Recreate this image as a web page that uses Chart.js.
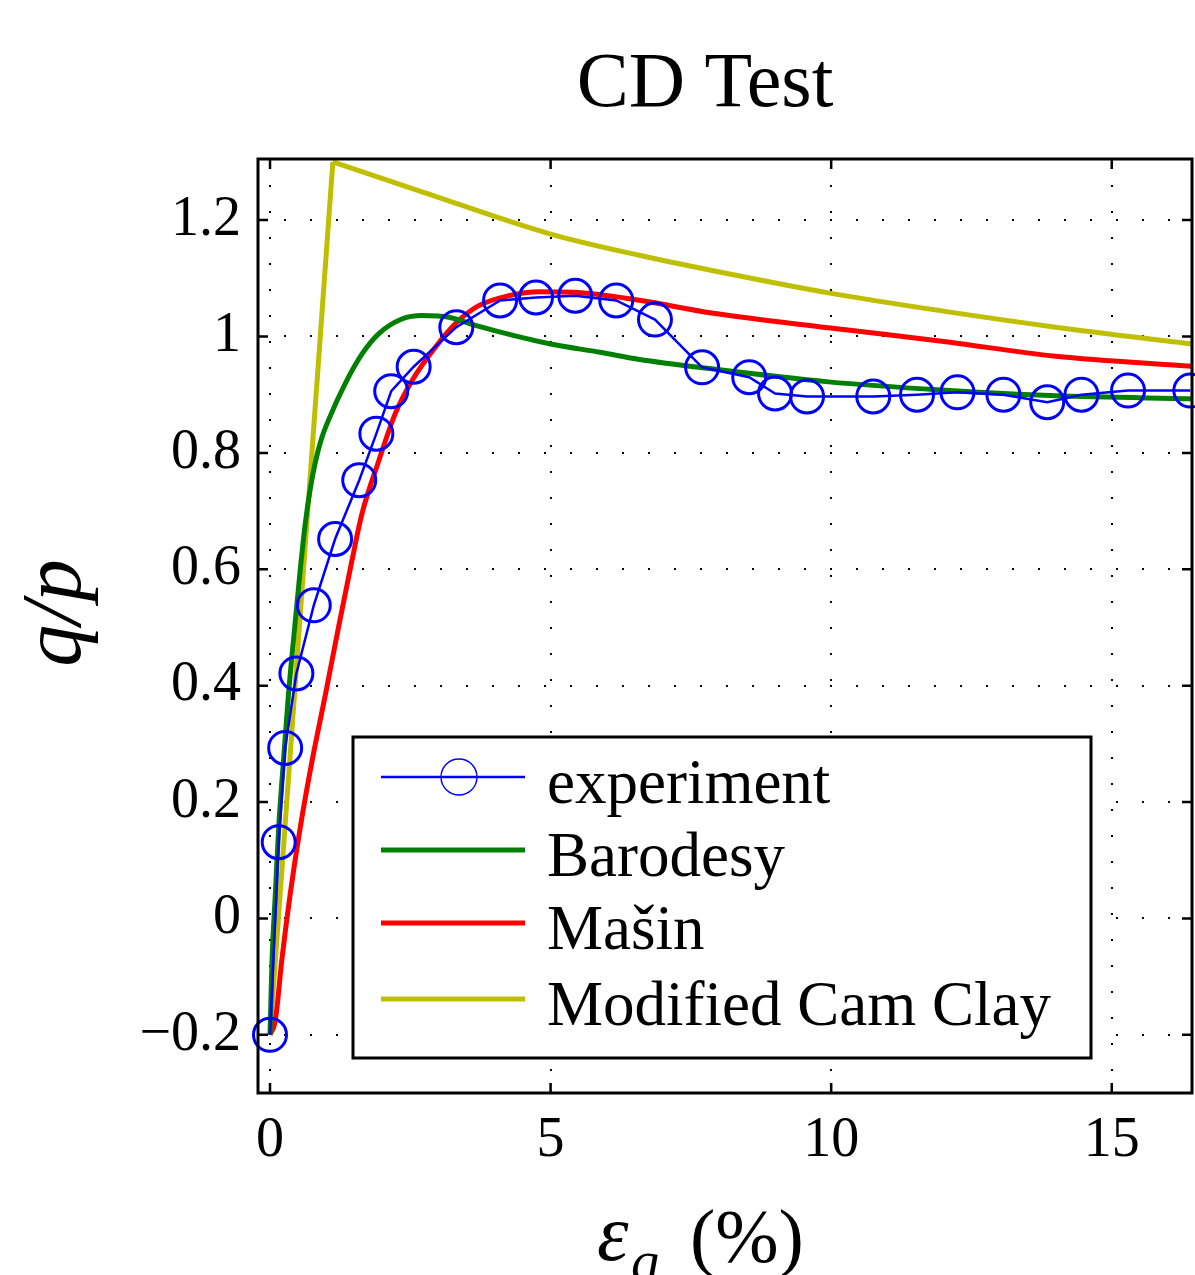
<!DOCTYPE html>
<html>
<head>
<meta charset="utf-8">
<script src="https://cdn.jsdelivr.net/npm/chart.js@4/dist/chart.umd.min.js"></script>
<style>
  html, body { margin: 0; padding: 0; background: #ffffff; }
  #wrap { width: 1195px; height: 1275px; }
</style>
</head>
<body>
<div id="wrap"><canvas id="c" width="1195" height="1275"></canvas></div>
<script>
// ---------------- data ----------------
const titleText = 'CD Test';
const seriesLabels = ['experiment', 'Barodesy', 'Mašin', 'Modified Cam Clay'];

const expX = [0, 0.155, 0.27, 0.47, 0.78, 1.16, 1.59, 1.895, 2.16, 2.56, 3.32, 4.10, 4.74, 5.44, 6.17, 6.86, 7.70, 8.54, 9.00, 9.57, 10.75, 11.53, 12.25, 13.07, 13.85, 14.46, 15.29, 16.40];
const expY = [-0.2, 0.131, 0.293, 0.421, 0.538, 0.652, 0.753, 0.833, 0.906, 0.948, 1.016, 1.062, 1.067, 1.070, 1.062, 1.029, 0.947, 0.930, 0.902, 0.897, 0.897, 0.900, 0.904, 0.900, 0.887, 0.900, 0.907, 0.907];

const baroX = [0, 0.036, 0.095, 0.155, 0.24, 0.33, 0.44, 0.545, 0.63, 0.72, 0.81, 0.92, 1.05, 1.34, 1.64, 1.94, 2.35, 2.71, 3.19, 3.66, 5.0, 5.88, 6.56, 7.9, 9.95, 11.97, 14.0, 16.43];
const baroY = [-0.2, -0.072, 0.042, 0.157, 0.271, 0.386, 0.50, 0.605, 0.68, 0.74, 0.785, 0.825, 0.858, 0.919, 0.970, 1.005, 1.030, 1.036, 1.033, 1.019, 0.987, 0.973, 0.961, 0.944, 0.922, 0.908, 0.898, 0.893];

const masinX = [0, 0.095, 0.21, 0.36, 0.54, 0.75, 0.99, 1.22, 1.46, 1.64, 1.94, 2.23, 2.53, 2.95, 3.30, 3.72, 4.25, 4.8, 5.4, 6.47, 7.9, 9.95, 11.97, 14.0, 16.43];
const masinY = [-0.2, -0.175, -0.072, 0.042, 0.157, 0.271, 0.386, 0.50, 0.615, 0.696, 0.787, 0.867, 0.924, 0.982, 1.022, 1.053, 1.070, 1.077, 1.076, 1.064, 1.04, 1.015, 0.992, 0.966, 0.949];

const mccRiseX = [0, 1.12];
const mccRiseY = [-0.2, 1.30];
const mccDecayX = [1.12, 2.67, 5.0, 6.56, 7.9, 9.95, 11.97, 14.0, 16.43];
const mccDecayY = [1.30, 1.25, 1.176, 1.14, 1.113, 1.075, 1.044, 1.016, 0.987];

const xTickValues = [0, 5, 10, 15];
const xTickLabels = ['0', '5', '10', '15'];
const yTickValues = [-0.2, 0, 0.2, 0.4, 0.6, 0.8, 1.0, 1.2];
const yTickLabels = ['\u22120.2', '0', '0.2', '0.4', '0.6', '0.8', '1', '1.2'];

const colors = ['#0000ff', '#008000', '#ff0000', '#bfbf00'];

// ---------------- helpers ----------------
const pts = (xs, ys) => xs.map((x, i) => ({ x: x, y: ys[i] }));
const SERIF = '"Liberation Serif", "DejaVu Serif", serif';

const decor = {
  id: 'decor',
  afterDatasetsDraw(chart) {
    const ctx = chart.ctx;
    const a = chart.chartArea;
    const xs = chart.scales.x, ys = chart.scales.y;
    ctx.save();
    ctx.strokeStyle = '#000';
    ctx.lineWidth = 2.5;
    ctx.beginPath();
    const tl = 10;
    yTickValues.forEach(v => {
      const p = ys.getPixelForValue(v);
      ctx.moveTo(a.left, p); ctx.lineTo(a.left + tl, p);
      ctx.moveTo(a.right, p); ctx.lineTo(a.right - tl, p);
    });
    xTickValues.forEach(v => {
      const p = xs.getPixelForValue(v);
      ctx.moveTo(p, a.bottom); ctx.lineTo(p, a.bottom - tl);
      ctx.moveTo(p, a.top); ctx.lineTo(p, a.top + tl);
    });
    ctx.stroke();
    ctx.lineWidth = 3;
    ctx.strokeRect(a.left, a.top, a.right - a.left, a.bottom - a.top);
    ctx.restore();
  },
  afterDraw(chart) {
    const ctx = chart.ctx;
    ctx.save();
    ctx.fillStyle = '#000';
    ctx.font = '78px ' + SERIF;
    ctx.textAlign = 'center';
    ctx.textBaseline = 'alphabetic';
    ctx.fillText(titleText, 705, 106);

    // y axis label q/p
    ctx.save();
    ctx.translate(80, 613);
    ctx.rotate(-Math.PI / 2);
    ctx.font = 'italic 84px ' + SERIF;
    ctx.textAlign = 'center';
    ctx.fillText('q/p', 0, 0);
    ctx.restore();

    // x axis label eps_q (%)
    ctx.font = 'italic 80px ' + SERIF;
    ctx.textAlign = 'left';
    ctx.fillText('\u03B5', 597, 1260);
    ctx.font = 'italic 56px ' + SERIF;
    ctx.fillText('q', 631, 1280);
    ctx.font = '76px ' + SERIF;
    ctx.fillText('(%)', 690, 1262);

    // legend
    const bx = 353, by = 737, bw = 738, bh = 321;
    ctx.fillStyle = '#fff';
    ctx.fillRect(bx, by, bw, bh);
    ctx.strokeStyle = '#000';
    ctx.lineWidth = 3;
    ctx.strokeRect(bx, by, bw, bh);
    const rows = [777, 850, 923, 999];
    chart.data.datasets.slice(0, 4).forEach((ds, i) => {
      const y = rows[i];
      ctx.strokeStyle = ds.borderColor;
      ctx.lineWidth = i === 0 ? 2.5 : 5;
      ctx.beginPath();
      ctx.moveTo(381, y); ctx.lineTo(525, y);
      ctx.stroke();
      if (i === 0) {
        ctx.lineWidth = 1.4;
        ctx.beginPath();
        ctx.arc(459, y, 18, 0, Math.PI * 2);
        ctx.stroke();
      }
      ctx.fillStyle = '#000';
      ctx.font = '63px ' + SERIF;
      ctx.textAlign = 'left';
      ctx.fillText(ds.label, 547, y + 26);
    });
    ctx.restore();
  }
};

new Chart(document.getElementById('c'), {
  type: 'line',
  data: {
    datasets: [
      {
        label: seriesLabels[0], data: pts(expX, expY),
        borderColor: colors[0], borderWidth: 2.5, tension: 0,
        pointRadius: 16.5, pointBorderWidth: 3, pointBorderColor: colors[0],
        pointBackgroundColor: 'rgba(0,0,0,0)', pointStyle: 'circle', clip: false
      },
      {
        label: seriesLabels[1], data: pts(baroX, baroY),
        borderColor: colors[1], borderWidth: 5, pointRadius: 0,
        cubicInterpolationMode: 'monotone'
      },
      {
        label: seriesLabels[2], data: pts(masinX, masinY),
        borderColor: colors[2], borderWidth: 5, pointRadius: 0,
        cubicInterpolationMode: 'monotone'
      },
      {
        label: seriesLabels[3], data: pts(mccRiseX, mccRiseY),
        borderColor: colors[3], borderWidth: 5, pointRadius: 0, tension: 0
      },
      {
        label: seriesLabels[3], data: pts(mccDecayX, mccDecayY),
        borderColor: colors[3], borderWidth: 5, pointRadius: 0,
        cubicInterpolationMode: 'monotone'
      }
    ]
  },
  options: {
    responsive: false,
    devicePixelRatio: 1,
    animation: false,
    events: [],
    layout: { autoPadding: false, padding: { top: 159, right: 3, left: 0, bottom: 0 } },
    plugins: { legend: { display: false }, title: { display: false }, tooltip: { enabled: false } },
    scales: {
      x: {
        type: 'linear', min: -0.214, max: 16.43,
        afterFit(s) { s.height = 182; s.paddingLeft = 0; s.paddingRight = 0; },
        afterBuildTicks(s) { s.ticks = xTickValues.map(v => ({ value: v })); },
        ticks: {
          font: { family: SERIF, size: 56 }, color: '#000', padding: 15,
          maxRotation: 0, autoSkip: false,
          callback: (v) => { const i = xTickValues.indexOf(v); return i >= 0 ? xTickLabels[i] : ''; }
        },
        grid: { color: '#000', lineWidth: 2, drawTicks: false },
        border: { display: false, dash: [2, 24] }
      },
      y: {
        type: 'linear', min: -0.3, max: 1.305,
        afterFit(s) { s.width = 258; s.paddingTop = 0; s.paddingBottom = 0; },
        afterBuildTicks(s) { s.ticks = yTickValues.map(v => ({ value: v })); },
        ticks: {
          font: { family: SERIF, size: 56 }, color: '#000', padding: 17,
          autoSkip: false,
          callback: (v) => { const i = yTickValues.findIndex(t => Math.abs(t - v) < 1e-9); return i >= 0 ? yTickLabels[i] : ''; }
        },
        grid: { color: '#000', lineWidth: 2, drawTicks: false },
        border: { display: false, dash: [2, 24] }
      }
    }
  },
  plugins: [decor]
});
</script>
</body>
</html>
